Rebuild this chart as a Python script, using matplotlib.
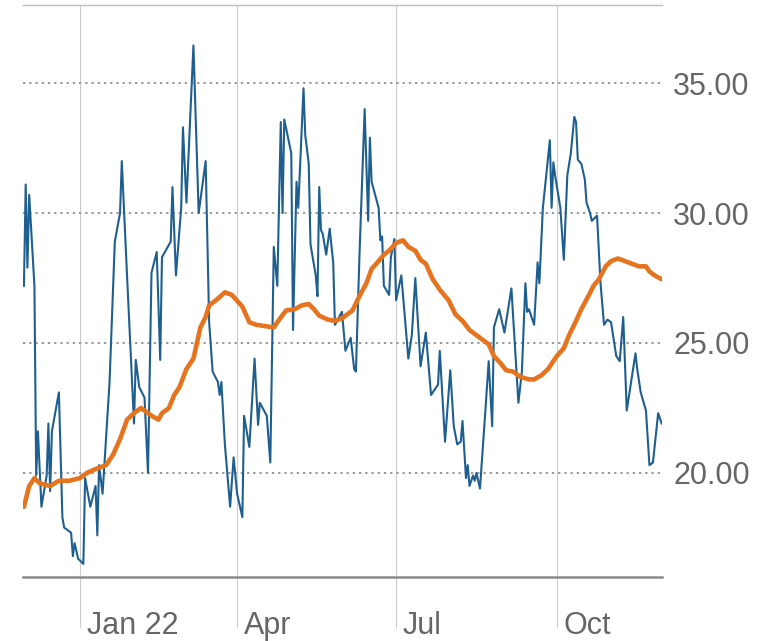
import matplotlib
matplotlib.use("Agg")
import matplotlib.pyplot as plt
import pandas as pd

plt.rcParams['font.family'] = ['Liberation Sans Narrow', 'Liberation Sans', 'DejaVu Sans']

# daily close (blue)
close_dates = [
    "2021-11-30", "2021-12-01", "2021-12-02", "2021-12-03", "2021-12-06", "2021-12-07",
    "2021-12-08", "2021-12-10", "2021-12-13", "2021-12-14", "2021-12-15", "2021-12-16",
    "2021-12-20", "2021-12-22", "2021-12-23", "2021-12-27", "2021-12-28", "2021-12-29",
    "2021-12-31", "2022-01-03", "2022-01-04", "2022-01-07", "2022-01-10", "2022-01-11",
    "2022-01-12", "2022-01-14", "2022-01-18", "2022-01-21", "2022-01-24", "2022-01-25",
    "2022-01-28", "2022-02-01", "2022-02-02", "2022-02-04", "2022-02-07", "2022-02-09",
    "2022-02-11", "2022-02-14", "2022-02-16", "2022-02-17", "2022-02-22", "2022-02-23",
    "2022-02-25", "2022-02-28", "2022-03-01", "2022-03-03", "2022-03-07", "2022-03-10",
    "2022-03-14", "2022-03-16", "2022-03-18", "2022-03-21", "2022-03-22", "2022-03-23",
    "2022-03-25", "2022-03-28", "2022-03-30", "2022-04-01", "2022-04-04", "2022-04-05",
    "2022-04-08", "2022-04-11", "2022-04-13", "2022-04-14", "2022-04-18", "2022-04-20",
    "2022-04-22", "2022-04-24", "2022-04-26", "2022-04-27", "2022-04-28", "2022-05-02",
    "2022-05-03", "2022-05-05", "2022-05-06", "2022-05-09", "2022-05-10", "2022-05-12",
    "2022-05-13", "2022-05-16", "2022-05-17", "2022-05-18", "2022-05-19", "2022-05-20",
    "2022-05-22", "2022-05-24", "2022-05-26", "2022-05-27", "2022-05-31", "2022-06-02",
    "2022-06-05", "2022-06-07", "2022-06-08", "2022-06-10", "2022-06-13", "2022-06-15",
    "2022-06-16", "2022-06-17", "2022-06-21", "2022-06-22", "2022-06-23", "2022-06-24",
    "2022-06-27", "2022-06-28", "2022-06-30", "2022-07-01", "2022-07-04", "2022-07-08",
    "2022-07-10", "2022-07-12", "2022-07-15", "2022-07-18", "2022-07-21", "2022-07-23",
    "2022-07-25", "2022-07-26", "2022-07-29", "2022-08-01", "2022-08-03", "2022-08-05",
    "2022-08-07", "2022-08-08", "2022-08-10", "2022-08-11", "2022-08-12", "2022-08-14",
    "2022-08-15", "2022-08-16", "2022-08-18", "2022-08-21", "2022-08-23", "2022-08-25",
    "2022-08-26", "2022-08-29", "2022-09-01", "2022-09-05", "2022-09-09", "2022-09-11",
    "2022-09-13", "2022-09-14", "2022-09-15", "2022-09-18", "2022-09-20", "2022-09-21",
    "2022-09-23", "2022-09-27", "2022-09-28", "2022-09-29", "2022-09-30", "2022-10-03",
    "2022-10-05", "2022-10-07", "2022-10-09", "2022-10-11", "2022-10-12", "2022-10-13",
    "2022-10-15", "2022-10-17", "2022-10-18", "2022-10-20", "2022-10-21", "2022-10-24",
    "2022-10-26", "2022-10-28", "2022-10-30", "2022-11-01", "2022-11-04", "2022-11-06",
    "2022-11-08", "2022-11-10", "2022-11-15", "2022-11-16", "2022-11-18", "2022-11-21",
    "2022-11-23", "2022-11-25", "2022-11-28", "2022-11-30",
]
close_values = [
    27.2, 31.1, 27.9, 30.7, 27.2, 19.9,
    21.6, 18.7, 19.9, 21.9, 19.3, 21.6,
    23.1, 18.3, 17.9, 17.7, 16.8, 17.3,
    16.7, 16.5, 19.8, 18.7, 19.5, 17.6,
    20.3, 19.2, 23.5, 28.9, 30.0, 32.0,
    27.6, 21.9, 24.35, 23.3, 22.9, 20.0,
    27.7, 28.5, 24.35, 28.3, 28.9, 31.0,
    27.6, 30.2, 33.3, 30.4, 36.45, 30.0,
    32.0, 25.8, 23.9, 23.5, 23.0, 23.5,
    21.1, 18.7, 20.6, 19.2, 18.3, 22.2,
    21.0, 24.4, 21.85, 22.7, 22.2, 20.4,
    28.7, 27.2, 33.5, 30.0, 33.6, 32.3,
    25.5, 31.2, 30.2, 34.8, 33.0, 31.9,
    28.8, 27.6, 26.8, 31.0, 29.35, 29.2,
    28.4, 29.4, 28.1, 25.7, 26.2, 24.7,
    25.2, 24.0, 23.9, 28.3, 34.0, 29.7,
    32.9, 31.2, 30.2, 28.95, 29.1, 27.2,
    26.85, 28.3, 29.0, 26.65, 27.6, 24.4,
    25.3, 27.5, 24.1, 25.4, 23.0, 23.2,
    23.4, 24.7, 21.2, 23.95, 21.8, 21.1,
    21.2, 22.0, 19.8, 20.3, 19.5, 19.9,
    19.7, 20.0, 19.4, 22.3, 24.3, 21.8,
    25.6, 26.3, 25.4, 27.1, 22.7, 23.9,
    27.3, 26.2, 26.3, 25.7, 28.1, 27.3,
    30.2, 32.8, 30.2, 31.95, 31.45, 30.2,
    28.2, 31.45, 32.3, 33.7, 33.5, 32.05,
    31.9, 31.3, 30.4, 30.0, 29.7, 29.9,
    27.3, 25.7, 25.9, 25.8, 24.5, 24.3,
    26.0, 22.4, 24.6, 24.0, 23.1, 22.4,
    20.3, 20.4, 22.3, 21.9,
]

# moving average (orange)
avg_dates = [
    "2021-11-30", "2021-12-03", "2021-12-06", "2021-12-09", "2021-12-15", "2021-12-20",
    "2021-12-26", "2022-01-01", "2022-01-05", "2022-01-10", "2022-01-16", "2022-01-20",
    "2022-01-24", "2022-01-28", "2022-02-01", "2022-02-05", "2022-02-09", "2022-02-11",
    "2022-02-15", "2022-02-17", "2022-02-21", "2022-02-24", "2022-02-27", "2022-03-03",
    "2022-03-07", "2022-03-11", "2022-03-14", "2022-03-16", "2022-03-20", "2022-03-25",
    "2022-03-29", "2022-04-04", "2022-04-08", "2022-04-12", "2022-04-17", "2022-04-22",
    "2022-04-24", "2022-04-29", "2022-05-04", "2022-05-08", "2022-05-12", "2022-05-15",
    "2022-05-18", "2022-05-23", "2022-05-27", "2022-05-31", "2022-06-06", "2022-06-10",
    "2022-06-14", "2022-06-17", "2022-06-21", "2022-06-24", "2022-06-27", "2022-07-01",
    "2022-07-05", "2022-07-08", "2022-07-12", "2022-07-15", "2022-07-18", "2022-07-22",
    "2022-07-26", "2022-07-31", "2022-08-04", "2022-08-08", "2022-08-12", "2022-08-16",
    "2022-08-20", "2022-08-23", "2022-08-26", "2022-08-30", "2022-09-02", "2022-09-06",
    "2022-09-10", "2022-09-15", "2022-09-18", "2022-09-22", "2022-09-26", "2022-10-01",
    "2022-10-05", "2022-10-08", "2022-10-12", "2022-10-15", "2022-10-19", "2022-10-22",
    "2022-10-25", "2022-10-29", "2022-11-01", "2022-11-05", "2022-11-09", "2022-11-13",
    "2022-11-17", "2022-11-21", "2022-11-23", "2022-11-26", "2022-11-30",
]
avg_values = [
    18.7, 19.5, 19.8, 19.6, 19.5, 19.7,
    19.7, 19.8, 20.0, 20.15, 20.3, 20.7,
    21.3, 22.05, 22.3, 22.5, 22.3, 22.2,
    22.05, 22.3, 22.5, 23.0, 23.3, 24.0,
    24.4, 25.6, 26.0, 26.45, 26.65, 26.95,
    26.85, 26.4, 25.8, 25.7, 25.65, 25.6,
    25.8, 26.25, 26.3, 26.45, 26.5, 26.3,
    26.05, 25.9, 25.85, 25.95, 26.25, 26.8,
    27.3, 27.85, 28.15, 28.4, 28.55, 28.85,
    28.95, 28.7, 28.55, 28.2, 28.05, 27.45,
    27.05, 26.65, 26.1, 25.85, 25.5, 25.3,
    25.1, 24.95, 24.5, 24.2, 23.95, 23.9,
    23.7, 23.6, 23.6, 23.75, 24.0, 24.5,
    24.8, 25.3, 25.85, 26.3, 26.8, 27.2,
    27.45, 27.95, 28.15, 28.25, 28.15, 28.05,
    27.95, 27.95, 27.75, 27.6, 27.45,
]

tick_dates = ["2022-01-01", "2022-04-01", "2022-07-01", "2022-10-01"]
tick_labels = ["Jan 22", "Apr", "Jul", "Oct"]
y_ticks = [20, 25, 30, 35]

fig = plt.figure(figsize=(7.69, 6.41), dpi=100)
ax = fig.add_axes([0.030, 0.100, 0.831, 0.892])

ax.plot(pd.to_datetime(close_dates), close_values, color='#1f5f8f', lw=1.5, zorder=3)
ax.plot(pd.to_datetime(avg_dates), avg_values, color='#e6731e', lw=3.3,
        solid_capstyle='round', zorder=4)

ax.set_xlim(pd.Timestamp("2021-11-29 12:00"), pd.Timestamp("2022-11-30 06:00"))
ax.set_ylim(16, 38)

# x axis: long grey ticks that continue the vertical grid lines
ax.set_xticks(pd.to_datetime(tick_dates))
ax.tick_params(axis='x', length=37, width=0.8, color='#cccccc', labelbottom=False)
ax.grid(axis='x', color='#cccccc', lw=0.8)
for d, lab in zip(pd.to_datetime(tick_dates), tick_labels):
    ax.annotate(lab, xy=(d, 0), xycoords=('data', 'axes fraction'),
                xytext=(5, -41), textcoords='offset points',
                ha='left', va='baseline', fontsize=22, color='#666666')

# y axis on the right, dotted grid
ax.yaxis.tick_right()
ax.set_yticks(y_ticks)
ax.set_yticklabels([f"{v:.2f}" for v in y_ticks])
ax.tick_params(axis='y', length=0, pad=8, labelsize=22, labelcolor='#666666')
ax.grid(axis='y', color='#9a9a9a', lw=1.4, linestyle=(0, (1.2, 2.0)))
ax.set_axisbelow(True)

for side in ['left', 'right']:
    ax.spines[side].set_visible(False)
ax.spines['top'].set_color('#c0c0c0')
ax.spines['top'].set_linewidth(1.0)
ax.spines['bottom'].set_color('#8a8a8a')
ax.spines['bottom'].set_linewidth(1.8)

fig.savefig('out.png', dpi=100)
